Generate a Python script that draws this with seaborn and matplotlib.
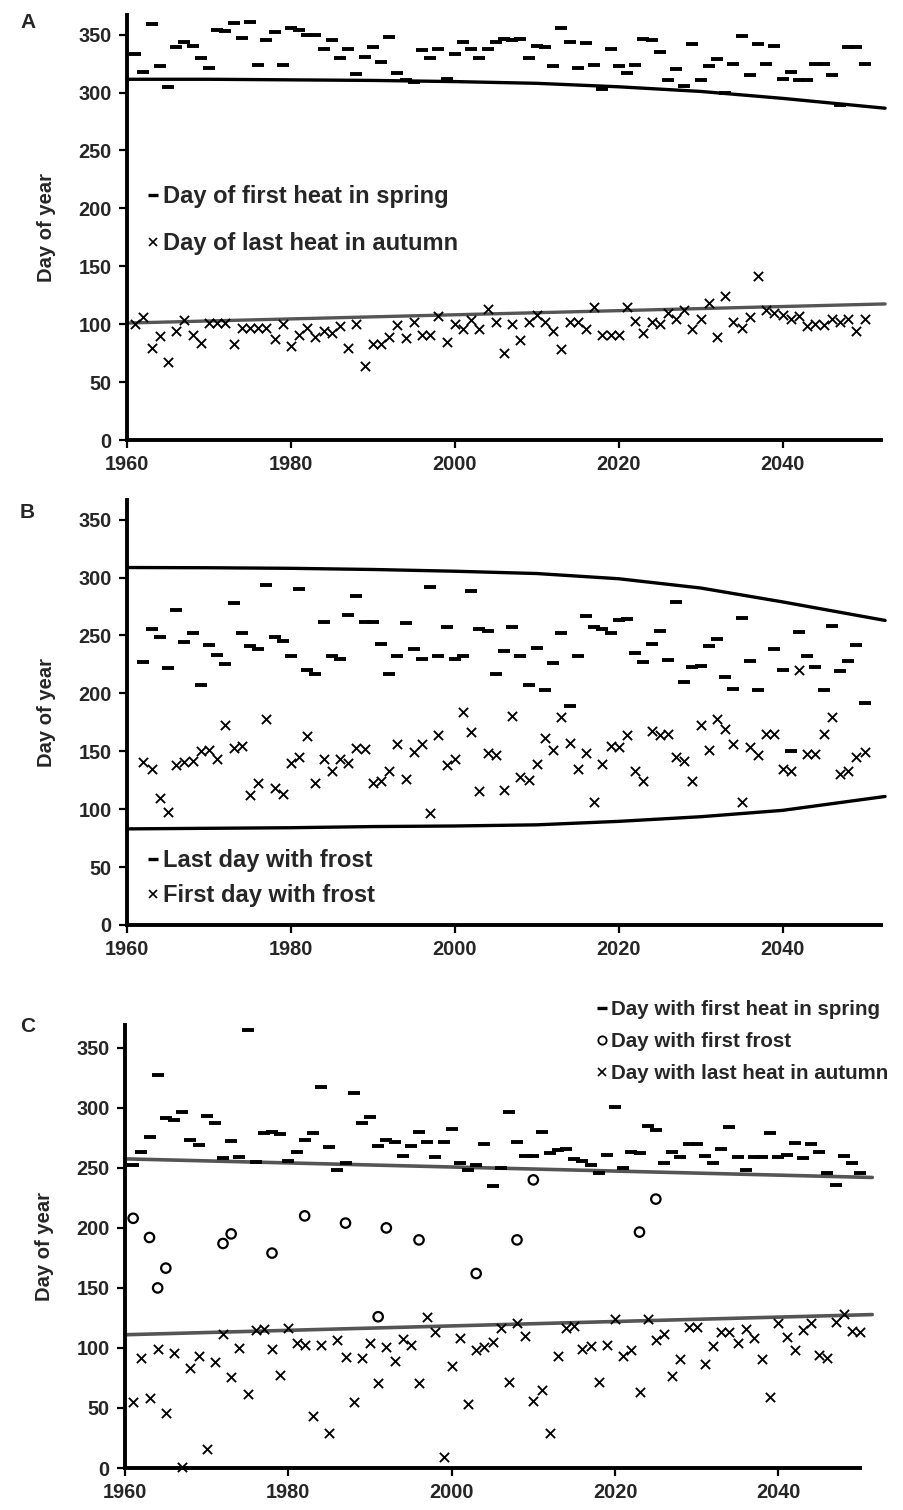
import numpy as np
import pandas as pd
import matplotlib
matplotlib.use("Agg")
import matplotlib.pyplot as plt
import seaborn as sns
from matplotlib.lines import Line2D

sns.set_theme(style="white")
plt.rcParams['font.family'] = ['Liberation Sans', 'DejaVu Sans']
plt.rcParams['font.weight'] = 'bold'
plt.rcParams['axes.labelweight'] = 'bold'

# ---------------- Panel A data ----------------
years_A = list(range(1961, 2051))
A_spring = [333, 318, 359, 323, 305, 339, 344, 340, 330, 321,
            354, 353, 360, 347, 361, 324, 345, 352, 324, 356,
            354, 350, 350, 338, 345, 330, 338, 316, 331, 339,
            326, 348, 317, 311, 309, 337, 330, 338, 312, 333,
            344, 338, 330, 338, 344, 346, 345, 346, 330, 340,
            339, 323, 356, 344, 321, 343, 324, 303, 338, 323,
            317, 324, 346, 345, 335, 311, 320, 306, 342, 311,
            323, 329, 300, 325, 349, 315, 342, 325, 340, 312,
            318, 311, 311, 325, 325, 315, 289, 339, 339, 325]
A_autumn = [100, 106, 79.5, 90, 67, 94, 103.5, 90.5, 84, 101,
            101, 101, 83, 96.5, 96.5, 96.5, 96.5, 87, 100, 81.5,
            91, 96.5, 89, 94.5, 92.5, 98.5, 79.5, 100, 63.5, 83,
            83, 89, 99.5, 88.5, 102, 90.5, 90.5, 107, 84.5, 100,
            95.5, 103.5, 95.5, 113, 101.5, 75, 100.5, 86, 102, 108,
            102, 94, 78.5, 102, 102, 95.5, 115, 91, 91, 91,
            115, 103, 92, 102, 100.5, 110, 104.5, 112, 95.5, 104.5,
            118, 89, 124, 101.5, 96.5, 106, 142, 112, 110, 108,
            104.5, 107, 98.5, 100, 99.5, 104.5, 101.5, 104.5, 94, 104.5]
trendA_spring_years = [1960, 1970, 1980, 1990, 2000, 2010, 2020, 2030, 2040, 2052.5]
trendA_spring = [311.5, 311.5, 311, 310.5, 309.5, 308, 305, 301, 295, 286.5]
trendA_autumn_years = [1960, 2052.5]
trendA_autumn = [101, 117.5]

# ---------------- Panel B data ----------------
years_B = list(range(1962, 2051))
B_last_frost = [227, 256, 249, 222, 272, 244, 252, 207, 242, 233,
                225, 278, 252, 241, 238, 294, 249, 245, 232, 290,
                220, 217, 262, 232, 230, 268, 284, 262, 262, 243,
                217, 232, 261, 238, 230, 292, 232, 257, 230, 232,
                288, 256, 254, 217, 237, 257, 232, 207, 239, 203,
                226, 252, 189, 232, 267, 257, 256, 252, 263, 264,
                235, 227, 243, 254, 229, 279, 210, 223, 224, 241,
                247, 214, 204, 265, 228, 203, np.nan, 238, 220, 150,
                253, 232, 223, 203, 258, 219, 228, 242, 192]
B_first_frost = [141, 134.5, 110, 97.5, 138, 141, 142, 150, 151, 143.5,
                 173, 153, 155, 112.5, 123, 178, 118, 113, 140, 145.5,
                 163.5, 122.5, 143, 133, 143.5, 140, 153, 152, 123, 124,
                 133, 156.5, 126, 149, 156, 96.5, 164, 138, 143.5, 184,
                 167, 115.5, 148.5, 146.5, 116.5, 180.5, 128, 125, 139, 161.5,
                 151.5, 180, 157.5, 134.5, 148.5, 106.5, 139, 154.5, 154, 164,
                 133, 124, 167.5, 164, 165, 145.5, 142, 124, 173, 151.5,
                 177.5, 169, 156.5, 106.5, 154, 146.5, 165, 165, 135, 133,
                 220, 148, 148, 165, 180, 130.5, 133, 145.5, 149]
trendB_years = [1960, 1970, 1980, 1990, 2000, 2010, 2020, 2030, 2040, 2052.5]
trendB_upper = [308.7, 308.5, 308, 307, 305.5, 303.5, 299, 291, 279, 263]
trendB_lower = [83, 83.5, 84, 85, 85.5, 86.5, 89.5, 93.5, 99, 111]

# ---------------- Panel C data ----------------
years_C = list(range(1961, 2051))
C_spring = [252.5, 263.5, 276, 327.5, 291.5, 290, 296.5, 273.5, 269, 293.5,
            287, 258, 272.5, 259, 365, 255, 279, 280, 278, 255.5,
            263.5, 273.5, 279, 317.5, 267, 248.5, 254, 312, 287.5, 292.5,
            268, 273.5, 271.5, 259.5, 268, 280, 271.5, 259, 271.5, 282.5,
            254, 248.5, 252.5, 270, 235, 249.5, 296.5, 271.5, 259.5, 259.5,
            280, 262.5, 264.5, 266, 257, 255.5, 252.5, 246, 260.5, 301,
            249.5, 263.5, 262.5, 285, 281.5, 254, 263.5, 259, 269.5, 270,
            259.5, 254, 266, 284, 259, 248.5, 259, 259, 279, 259,
            260.5, 270.5, 258, 270, 263.5, 246, 236, 259.5, 254, 246]
C_frost_years = [1961, 1963, 1964, 1965, 1972, 1973, 1978, 1982, 1987,
                 1991, 1992, 1996, 2003, 2008, 2010, 2023, 2025]
C_frost = [208, 192, 150, 166.5, 187, 195, 179, 210, 204,
           126, 200, 190, 162, 190, 240, 196.5, 224]
C_autumn = [55, 91.5, 58, 99, 45.5, 96, 1, 83, 93, 16,
            88.5, 112, 76, 100, 62, 115, 116, 99, 77.5, 117,
            104.5, 102.5, 43, 102.5, 29, 107, 92.5, 55, 91.5, 104.5,
            70.5, 100.5, 89, 107.5, 102.5, 70.5, 126, 113, 9, 85,
            108.5, 53.5, 98, 100.5, 105, 117, 71.5, 120.5, 110, 56,
            65, 29, 93.5, 117, 118.5, 99.5, 101.5, 72, 102.5, 124,
            93.5, 98, 63, 124, 107, 111.5, 77, 90.5, 117.5, 117.5,
            87, 101.5, 113.5, 113.5, 104, 115.5, 108.5, 90.5, 59.5, 120.5,
            109.5, 98, 115, 120.5, 94.5, 91.5, 121.5, 128.5, 114, 113]
trendC_years = [1960, 2051.5]
trendC_spring = [257.5, 242]
trendC_autumn = [111, 127.8]

yticks = [0, 50, 100, 150, 200, 250, 300, 350]
xticks = [1960, 1980, 2000, 2020, 2040]

# ---------------- Figure ----------------
W, H = 904, 1510
fig = plt.figure(figsize=(W / 100, H / 100), dpi=100)


def ax_px(l, t, r, b):
    return fig.add_axes([l / W, 1 - b / H, (r - l) / W, (b - t) / H])


FS = 14.3
DASH = dict(marker='_', s=64, color='black', linewidth=2.8)
CROSS = dict(marker='x', s=44, color='black', linewidth=1.35)
CIRC = dict(marker='o', s=46, facecolor='none', edgecolor='black', linewidth=1.6)
GRAY = '#555555'


def style(ax, ymax, xmax):
    ax.set_xlim(1960, xmax)
    ax.set_ylim(0, ymax)
    ax.set_xticks(xticks)
    ax.set_yticks(yticks)
    for s in ['top', 'right']:
        ax.spines[s].set_visible(False)
    for s in ['left', 'bottom']:
        ax.spines[s].set_linewidth(2.8)
        ax.spines[s].set_color('black')
    ax.tick_params(axis='both', direction='out', length=6, width=1.6,
                   color='black', labelsize=FS, pad=5, bottom=True, left=True)
    for lab in ax.get_xticklabels() + ax.get_yticklabels():
        lab.set_fontweight('bold')
    ax.set_xlabel('')
    ax.grid(False)


def leg(ax, handles, labels, x, y, spacing, size):
    lg = ax.legend(handles, labels, loc='upper left',
                   bbox_to_anchor=(x / W, 1 - y / H),
                   bbox_transform=fig.transFigure, frameon=False,
                   handlelength=0.45, handletextpad=0.22, borderaxespad=0,
                   labelspacing=spacing, prop={'size': size, 'weight': 'bold'})
    return lg


h_dash = Line2D([], [], marker='_', linestyle='none', color='black', markersize=6.5, mew=2.4)
h_cross = Line2D([], [], marker='x', linestyle='none', color='black', markersize=5.5, mew=1.2)
h_circ = Line2D([], [], marker='o', linestyle='none', markerfacecolor='none',
                markeredgecolor='black', markersize=6, mew=1.3)

# Panel A
axA = ax_px(127, 15, 881, 440)
sns.lineplot(x=trendA_spring_years, y=trendA_spring, ax=axA, color='black',
             linewidth=2.4, estimator=None, sort=False)
sns.lineplot(x=trendA_autumn_years, y=trendA_autumn, ax=axA, color=GRAY,
             linewidth=2.4, estimator=None, sort=False)
sns.scatterplot(x=years_A, y=A_spring, ax=axA, **DASH, zorder=3)
sns.scatterplot(x=years_A, y=A_autumn, ax=axA, **CROSS, zorder=3)
style(axA, 367, 2052)
axA.set_ylabel('Day of year', fontsize=14.5, fontweight='bold', labelpad=16)
leg(axA, [h_dash, h_cross], ['Day of first heat in spring', 'Day of last heat in autumn'],
    138, 176, 1.0, 17)
fig.text(20 / W, 1 - 22 / H, 'A', fontsize=15, fontweight='bold', va='center', ha='left')

# Panel B
axB = ax_px(127, 500, 881, 925)
sns.lineplot(x=trendB_years, y=trendB_upper, ax=axB, color='black',
             linewidth=2.4, estimator=None, sort=False)
sns.lineplot(x=trendB_years, y=trendB_lower, ax=axB, color='black',
             linewidth=2.4, estimator=None, sort=False)
sns.scatterplot(x=years_B, y=B_last_frost, ax=axB, **DASH, zorder=3)
sns.scatterplot(x=years_B, y=B_first_frost, ax=axB, **CROSS, zorder=3)
style(axB, 367, 2052)
axB.set_ylabel('Day of year', fontsize=14.5, fontweight='bold', labelpad=16)
leg(axB, [h_dash, h_cross], ['Last day with frost', 'First day with frost'],
    138, 840, 0.5, 17)
fig.text(20 / W, 1 - 512 / H, 'B', fontsize=15, fontweight='bold', va='center', ha='left')

# Panel C
axC = ax_px(125, 1025, 860, 1468)
sns.lineplot(x=trendC_years, y=trendC_spring, ax=axC, color=GRAY,
             linewidth=2.6, estimator=None, sort=False)
sns.lineplot(x=trendC_years, y=trendC_autumn, ax=axC, color=GRAY,
             linewidth=2.6, estimator=None, sort=False)
sns.scatterplot(x=years_C, y=C_spring, ax=axC, **DASH, zorder=3, clip_on=False)
sns.scatterplot(x=C_frost_years, y=C_frost, ax=axC, **CIRC, zorder=3)
sns.scatterplot(x=years_C, y=C_autumn, ax=axC, **CROSS, zorder=3, clip_on=False)
style(axC, 369, 2050)
axC.set_ylabel('Day of year', fontsize=14.5, fontweight='bold', labelpad=16)
leg(axC, [h_dash, h_circ, h_cross],
    ['Day with first heat in spring', 'Day with first frost', 'Day with last heat in autumn'],
    589, 992, 0.62, 14.8)
fig.text(20 / W, 1 - 1027 / H, 'C', fontsize=15, fontweight='bold', va='center', ha='left')

for ax in (axA, axB, axC):
    for l in ax.lines:
        l.set_clip_on(False)

fig.savefig('out.png', dpi=100)
